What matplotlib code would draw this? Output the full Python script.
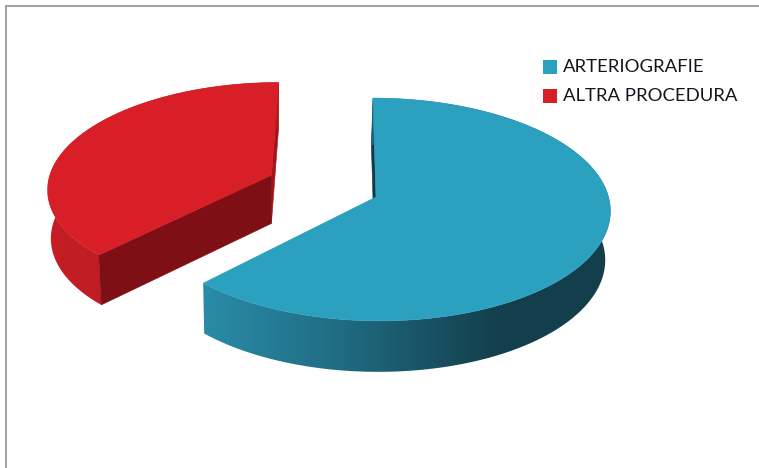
import numpy as np
import matplotlib
matplotlib.use("Agg")
import matplotlib.pyplot as plt
from matplotlib.colors import LinearSegmentedColormap
from matplotlib.patches import Polygon, Rectangle

labels = ["ARTERIOGRAFIE", "ALTRA PROCEDURA"]
values = [62.2, 37.8]
explode = [0.0, 0.5]
explode_angle = [0.0, 294.0]
radius = [1.0, 0.975]

top_colors = ["#2ca1bf", "#d81f27"]
back_face_colors = ["#0f3a47", "#a3151b"]
front_face_colors = [None, "#7e1015"]
wall_stops = [
    [(0.0, "#2a8ca8"), (0.35, "#1f6a80"), (0.72, "#143f4d"), (1.0, "#133f4c")],
    [(0.0, "#c51e25"), (1.0, "#ad191f")],
]

# perspective of the pie plane, in pixels
CX, CY = 376.0, 197.0
RX, RY = 232.5, 110.0
K = 0.112
VX = 346.0


def project(u, v):
    den = 1 + K * v
    x = (CX + RX * u + K * v * VX) / den
    y = CY - RY * v / den
    return x, y


def lower(x, y):
    # same points on the underside of the pie
    return 0.985 * x + 4.0, 1.018 * y + 45.2


def add_poly(ax, xs, ys, color, z):
    pts = np.column_stack([xs, ys])
    p = Polygon(pts, closed=True, facecolor=color, edgecolor=color, lw=0.4, zorder=z)
    ax.add_patch(p)
    return p


def draw_slice(ax, i, a0, a1, z):
    d = np.radians(explode_angle[i])
    au = explode[i] * np.sin(d)
    av = explode[i] * np.cos(d)
    th = np.radians(np.linspace(a0, a1, 200))
    x, y = project(au + radius[i] * np.sin(th), av + radius[i] * np.cos(th))
    bx, by = lower(x, y)
    ax_, ay_ = project(au, av)
    abx, aby = lower(ax_, ay_)

    # index of the cut that runs to the back of the pie
    back = 0 if a0 == 0 else -1
    front = -1 if a0 == 0 else 0

    # back cut, then the outer wall, then the front cut, the top goes over everything
    add_poly(ax, [ax_, x[back], bx[back], abx], [ay_, y[back], by[back], aby], back_face_colors[i], z)

    wx = np.concatenate([x, bx[::-1]])
    wy = np.concatenate([y, by[::-1]])
    wall = Polygon(np.column_stack([wx, wy]), closed=True, facecolor="none", edgecolor="none", zorder=z + 1)
    ax.add_patch(wall)
    cmap = LinearSegmentedColormap.from_list("wall", wall_stops[i])
    im = ax.imshow(np.linspace(0, 1, 256).reshape(1, -1), cmap=cmap, aspect="auto",
                   extent=[wx.min(), wx.max(), wy.max(), wy.min()], zorder=z + 1, interpolation="bilinear")
    im.set_clip_path(wall)

    if front_face_colors[i]:
        add_poly(ax, [ax_, x[front], bx[front], abx], [ay_, y[front], by[front], aby], front_face_colors[i], z + 2)
    add_poly(ax, np.r_[ax_, x], np.r_[ay_, y], top_colors[i], z + 3)


fig = plt.figure(figsize=(7.59, 4.68), dpi=100)
ax = fig.add_axes([0, 0, 1, 1])

angles = np.cumsum([0] + values) / sum(values) * 360
# red slice sits behind the blue one
for i in [1, 0]:
    draw_slice(ax, i, angles[i], angles[i + 1], 2 + (1 - i) * 5)

# frame of the chart area, only top and left are in view
ax.plot([5.8, 5.8, 759], [468, 6.2, 6.2], color="#a3a3a3", lw=1.5, zorder=1, solid_joinstyle="miter")

# legend
for i, label in enumerate(labels):
    y = 67 + i * 29
    ax.add_patch(Rectangle((543, y - 7), 13.5, 14, facecolor=top_colors[i], edgecolor="none", zorder=20))
    ax.text(563, y + 5, label, family="Lato", fontsize=13.3, color="#14141e", va="baseline", ha="left", zorder=20)

ax.set_xlim(0, 759)
ax.set_ylim(468, 0)
ax.axis("off")
fig.savefig("out.png", dpi=100, facecolor="white")
